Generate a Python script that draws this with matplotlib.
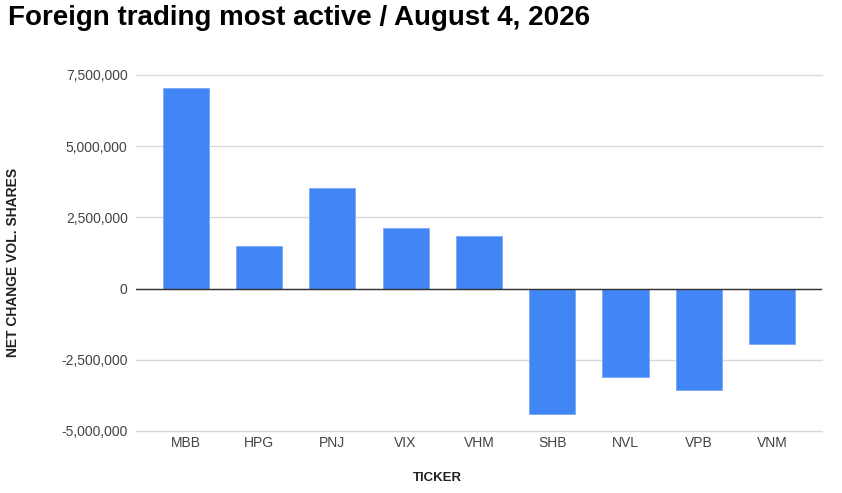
import matplotlib.pyplot as plt
from matplotlib.ticker import FuncFormatter

plt.rcParams['font.family'] = ['Liberation Sans', 'DejaVu Sans']

tickers = ['MBB', 'HPG', 'PNJ', 'VIX', 'VHM', 'SHB', 'NVL', 'VPB', 'VNM']
net_change = [7050000, 1510000, 3530000, 2110000, 1840000,
              -4390000, -3100000, -3580000, -1950000]

fig = plt.figure(figsize=(8.42, 4.93), dpi=100)
ax = fig.add_axes([0.1615, 0.126, 0.8145, 0.722])

ax.bar(range(len(tickers)), net_change, width=0.63, color='#4285f4',
       edgecolor='#7aa7f7', linewidth=0.6, zorder=3)

ax.set_xlim(-0.68, len(tickers) - 1 + 0.68)
ax.set_ylim(-5000000, 7500000)
ax.set_yticks([-5000000, -2500000, 0, 2500000, 5000000, 7500000])
ax.yaxis.set_major_formatter(FuncFormatter(lambda v, p: f'{int(v):,}'))
ax.set_xticks(range(len(tickers)))
ax.set_xticklabels(tickers)

ax.grid(axis='y', color='#d9d9d9', linewidth=1, zorder=0)
for gl in ax.get_ygridlines():
    gl.set_clip_on(False)
ax.axhline(0, color='#333333', linewidth=1, zorder=4)
for s in ax.spines.values():
    s.set_visible(False)
ax.tick_params(length=0, labelsize=10, labelcolor='#444444')
ax.tick_params(axis='x', pad=4)
ax.tick_params(axis='y', pad=6)

fig.text(0.01, 0.963, 'Foreign trading most active / August 4, 2026',
         fontsize=20, fontweight='bold', va='center', ha='left')
fig.text(0.52, 0.03, 'TICKER', fontsize=9.5, fontweight='bold', ha='center', va='center',
         color='#222222')
fig.text(0.015, 0.467, 'NET CHANGE VOL. SHARES', fontsize=10, fontweight='bold',
         rotation=90, ha='center', va='center', color='#222222')

plt.savefig('out.png')
